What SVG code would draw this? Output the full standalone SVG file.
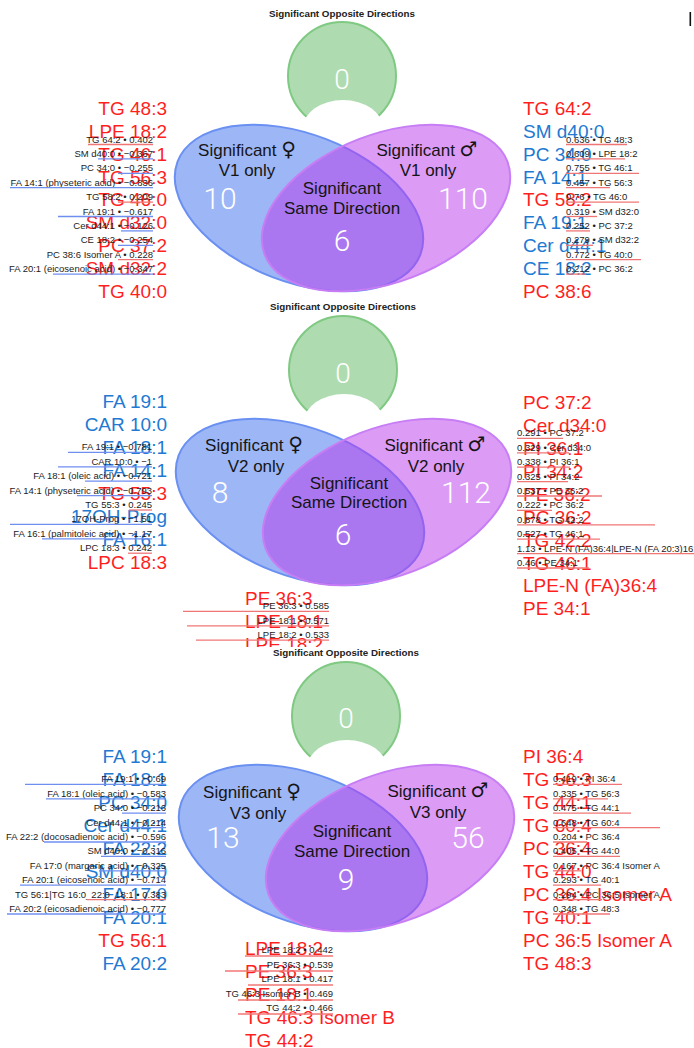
<svg xmlns="http://www.w3.org/2000/svg" width="694" height="1048" viewBox="0 0 694 1048">
<style>
text{font-family:"Liberation Sans","DejaVu Sans",Arial,sans-serif}
.ttl{font-size:9.8px;font-weight:bold;fill:#222;text-anchor:middle}
.vl{font-size:17px;fill:#151515;text-anchor:middle}
.sym{font-family:"DejaVu Sans",sans-serif;font-size:20px}
.num{font-family:Roboto,"Liberation Sans",sans-serif;font-weight:300;font-size:30px;fill:#fff;text-anchor:middle}
.br{font-size:19px;fill:#ff1f1f}
.bb{font-size:19px;fill:#2179d2}
.s{font-size:9.5px;fill:#1c1c1c}
.e{text-anchor:end}
.lr{stroke:#f07676;stroke-width:1.3}
.lb{stroke:#6f8ff0;stroke-width:1.3}
.green{fill:#aedcb0;stroke:#80c983;stroke-width:2}
.bite{fill:#fff}
.blue{fill:rgb(59,110,235);fill-opacity:.5;stroke:#6a90f2;stroke-width:2}
.purple{fill:rgb(185,55,235);fill-opacity:.5;stroke:#c77ef5;stroke-width:2}
</style>
<defs>
<clipPath id="c1"><rect x="0" y="0" width="694" height="300"/></clipPath>
<clipPath id="c2"><rect x="0" y="300" width="694" height="347"/></clipPath>
<clipPath id="c3"><rect x="0" y="647" width="694" height="401"/></clipPath>
<g id="venn">
<circle class="green" cx="342" cy="76" r="54"/>
<ellipse class="bite" cx="343" cy="128" rx="40" ry="28"/>
<ellipse class="blue" cx="299" cy="208" rx="130" ry="74" transform="rotate(21 299 208)"/>
<ellipse class="purple" cx="386" cy="208" rx="130" ry="74" transform="rotate(-21 386 208)"/>
</g>
</defs>
<rect width="694" height="1048" fill="#fff"/>
<rect x="689.5" y="12" width="1.6" height="14" fill="#111"/>

<!-- PANEL 1 -->
<g id="panel1" clip-path="url(#c1)">
<g id="p1-shapes"><use href="#venn"/></g>
<g id="p1-opposite"><text class="ttl" x="342" y="17">Significant Opposite Directions</text><text class="num" x="342" y="89" style="font-size:28px">0</text></g>
<g id="p1-female"><text class="vl" x="247" y="156">Significant <tspan class="sym">♀</tspan></text><text class="vl" x="247" y="176">V1 only</text><text class="num" x="220" y="209">10</text></g>
<g id="p1-male"><text class="vl" x="427" y="156">Significant <tspan class="sym">♂</tspan></text><text class="vl" x="428" y="176">V1 only</text><text class="num" x="463" y="209">110</text></g>
<g id="p1-same"><text class="vl" x="342" y="194">Significant</text><text class="vl" x="342" y="214">Same Direction</text><text class="num" x="342" y="251">6</text></g>
<g id="p1-left-labels">
<text class="br e" x="167" y="115">TG 48:3</text><text class="br e" x="167" y="138">LPE 18:2</text><text class="br e" x="167" y="161">TG 46:1</text><text class="br e" x="167" y="184">TG 56:3</text><text class="br e" x="167" y="206">TG 46:0</text><text class="br e" x="167" y="229">SM d32:0</text><text class="br e" x="167" y="252">PC 37:2</text><text class="br e" x="167" y="275">SM d32:2</text><text class="br e" x="167" y="298">TG 40:0</text>
</g>
<g id="p1-right-labels">
<text class="br" x="523" y="115">TG 64:2</text><text class="bb" x="523" y="138">SM d40:0</text><text class="bb" x="523" y="161">PC 34:0</text><text class="bb" x="523" y="184">FA 14:1</text><text class="br" x="523" y="206">TG 58:2</text><text class="bb" x="523" y="229">FA 19:1</text><text class="bb" x="523" y="252">Cer d44:1</text><text class="bb" x="523" y="275">CE 18:2</text><text class="br" x="523" y="298">PC 38:6</text>
</g>
<g id="p1-left-values">
<text class="s e" x="153" y="142.5">TG 64:2 • 0.402</text>
<text class="s e" x="153" y="156.9">SM d40:0 • −0.367</text>
<text class="s e" x="153" y="171.3">PC 34:0 • −0.255</text>
<text class="s e" x="153" y="185.7">FA 14:1 (physeteric acid) • −0.836</text>
<text class="s e" x="153" y="200.1">TG 58:2 • 0.209</text>
<text class="s e" x="153" y="214.5">FA 19:1 • −0.617</text>
<text class="s e" x="153" y="228.9">Cer d44:1 • −0.126</text>
<text class="s e" x="153" y="243.3">CE 18:2 • −0.254</text>
<text class="s e" x="153" y="257.7">PC 38:6 Isomer A • 0.228</text>
<text class="s e" x="153" y="272.1">FA 20:1 (eicosenoic acid) • −0.347</text>
</g>
<g id="p1-right-values">
<text class="s" x="566" y="142.5">0.636 • TG 48:3</text>
<text class="s" x="566" y="156.9">0.609 • LPE 18:2</text>
<text class="s" x="566" y="171.3">0.755 • TG 46:1</text>
<text class="s" x="566" y="185.7">0.457 • TG 56:3</text>
<text class="s" x="566" y="200.1">0.76 • TG 46:0</text>
<text class="s" x="566" y="214.5">0.319 • SM d32:0</text>
<text class="s" x="566" y="228.9">0.252 • PC 37:2</text>
<text class="s" x="566" y="243.3">0.279 • SM d32:2</text>
<text class="s" x="566" y="257.7">0.772 • TG 40:0</text>
<text class="s" x="566" y="272.1">0.212 • PC 36:2</text>
</g>
</g>

<!-- PANEL 2 -->
<g id="panel2" clip-path="url(#c2)">
<g id="p2-shapes"><use href="#venn" transform="translate(1,294)"/></g>
<g id="p2-opposite"><text class="ttl" x="343" y="310">Significant Opposite Directions</text><text class="num" x="343" y="383" style="font-size:28px">0</text></g>
<g id="p2-female"><text class="vl" x="254" y="451">Significant <tspan class="sym">♀</tspan></text><text class="vl" x="256" y="472">V2 only</text><text class="num" x="220" y="503">8</text></g>
<g id="p2-male"><text class="vl" x="435" y="451">Significant <tspan class="sym">♂</tspan></text><text class="vl" x="436" y="472">V2 only</text><text class="num" x="466" y="503">112</text></g>
<g id="p2-same"><text class="vl" x="349" y="489">Significant</text><text class="vl" x="349" y="508">Same Direction</text><text class="num" x="343" y="545">6</text></g>
<g id="p2-left-labels">
<text class="bb e" x="167" y="408">FA 19:1</text><text class="bb e" x="167" y="431">CAR 10:0</text><text class="bb e" x="167" y="454">FA 18:1</text><text class="bb e" x="167" y="477">FA 14:1</text><text class="br e" x="167" y="500">TG 55:3</text><text class="bb e" x="167" y="523">17OH-Prog</text><text class="bb e" x="167" y="546">FA 16:1</text><text class="br e" x="167" y="569">LPC 18:3</text>
</g>
<g id="p2-right-labels">
<text class="br" x="523" y="409">PC 37:2</text><text class="br" x="523" y="432">Cer d34:0</text><text class="br" x="523" y="455">PI 36:1</text><text class="br" x="523" y="478">PI 34:2</text><text class="br" x="523" y="501">PE 36:2</text><text class="br" x="523" y="524">PC 36:2</text><text class="br" x="523" y="547">TG 42:2</text><text class="br" x="523" y="570">TG 46:1</text><text class="br" x="523" y="592">LPE-N (FA)36:4</text><text class="br" x="523" y="615">PE 34:1</text>
</g>
<g id="p2-bottom-labels">
<text class="br" x="245" y="605">PE 36:3</text><text class="br" x="245" y="628">LPE 18:1</text><text class="br" x="245" y="651">LPE 18:2</text>
</g>
<g id="p2-left-values">
<text class="s e" x="152" y="450.4">FA 19:1 • −0.781</text>
<text class="s e" x="152" y="464.8">CAR 10:0 • −1</text>
<text class="s e" x="152" y="479.2">FA 18:1 (oleic acid) • −0.721</text>
<text class="s e" x="152" y="493.6">FA 14:1 (physeteric acid) • −0.793</text>
<text class="s e" x="152" y="508">TG 55:3 • 0.245</text>
<text class="s e" x="152" y="522.4">17OH-Prog • −1.51</text>
<text class="s e" x="152" y="536.8">FA 16:1 (palmitoleic acid) • −1.17</text>
<text class="s e" x="152" y="551.2">LPC 18:3 • 0.242</text>
</g>
<g id="p2-right-values">
<text class="s" x="517" y="436.4">0.291 • PC 37:2</text>
<text class="s" x="517" y="450.8">0.329 • Cer d34:0</text>
<text class="s" x="517" y="465.2">0.338 • PI 36:1</text>
<text class="s" x="517" y="479.6">0.325 • PI 34:2</text>
<text class="s" x="517" y="494">0.537 • PE 36:2</text>
<text class="s" x="517" y="508.4">0.222 • PC 36:2</text>
<text class="s" x="517" y="522.8">0.878 • TG 42:2</text>
<text class="s" x="517" y="537.2">0.527 • TG 46:1</text>
<text class="s" x="517" y="551.6">1.13 • LPE-N (FA)36:4|LPE-N (FA 20:3)16:1</text>
<text class="s" x="517" y="566">0.46 • PE 34:1</text>
</g>
<g id="p2-bottom-values">
<text class="s e" x="329" y="609.4">PE 36:3 • 0.585</text>
<text class="s e" x="329" y="623.8">LPE 18:1 • 0.571</text>
<text class="s e" x="329" y="638.2">LPE 18:2 • 0.533</text>
</g>
</g>

<!-- PANEL 3 -->
<g id="panel3" clip-path="url(#c3)">
<g id="p3-shapes"><use href="#venn" transform="translate(4,640)"/></g>
<g id="p3-opposite"><text class="ttl" x="346" y="656">Significant Opposite Directions</text><text class="num" x="346" y="728" style="font-size:28px">0</text></g>
<g id="p3-female"><text class="vl" x="252" y="798">Significant <tspan class="sym">♀</tspan></text><text class="vl" x="258" y="819">V3 only</text><text class="num" x="223" y="848">13</text></g>
<g id="p3-male"><text class="vl" x="438" y="797">Significant <tspan class="sym">♂</tspan></text><text class="vl" x="438" y="818">V3 only</text><text class="num" x="468" y="848">56</text></g>
<g id="p3-same"><text class="vl" x="352" y="837">Significant</text><text class="vl" x="352" y="857">Same Direction</text><text class="num" x="346" y="890">9</text></g>
<g id="p3-left-labels">
<text class="bb e" x="167" y="763">FA 19:1</text><text class="bb e" x="167" y="786">FA 18:1</text><text class="bb e" x="167" y="809">PC 34:0</text><text class="bb e" x="167" y="832">Cer d44:1</text><text class="bb e" x="167" y="855">FA 22:2</text><text class="bb e" x="167" y="878">SM d40:0</text><text class="bb e" x="167" y="901">FA 17:0</text><text class="bb e" x="167" y="924">FA 20:1</text><text class="br e" x="167" y="947">TG 56:1</text><text class="bb e" x="167" y="970">FA 20:2</text>
</g>
<g id="p3-right-labels">
<text class="br" x="523" y="763">PI 36:4</text><text class="br" x="523" y="786">TG 56:3</text><text class="br" x="523" y="809">TG 44:1</text><text class="br" x="523" y="832">TG 60:4</text><text class="br" x="523" y="855">PC 36:4</text><text class="br" x="523" y="878">TG 44:0</text><text class="br" x="523" y="901">PC 36:4 Isomer A</text><text class="br" x="523" y="924">TG 40:1</text><text class="br" x="523" y="947">PC 36:5 Isomer A</text><text class="br" x="523" y="970">TG 48:3</text>
</g>
<g id="p3-bottom-labels">
<text class="br" x="245" y="955">LPE 18:2</text><text class="br" x="245" y="978">PE 36:3</text><text class="br" x="245" y="1001">PE 18:1</text><text class="br" x="245" y="1024">TG 46:3 Isomer B</text><text class="br" x="245" y="1047">TG 44:2</text>
</g>
<g id="p3-left-values">
<text class="s e" x="166" y="782.4">FA 19:1 • −0.69</text>
<text class="s e" x="166" y="796.8">FA 18:1 (oleic acid) • −0.583</text>
<text class="s e" x="166" y="811.2">PC 34:0 • −0.216</text>
<text class="s e" x="166" y="825.6">Cer d44:1 • −0.214</text>
<text class="s e" x="166" y="840">FA 22:2 (docosadienoic acid) • −0.596</text>
<text class="s e" x="166" y="854.4">SM d40:0 • −0.316</text>
<text class="s e" x="166" y="868.8">FA 17:0 (margaric acid) • −0.325</text>
<text class="s e" x="166" y="883.2">FA 20:1 (eicosenoic acid) • −0.714</text>
<text class="s e" x="166" y="897.6">TG 56:1|TG 16:0_22:0_18:1 • 0.383</text>
<text class="s e" x="166" y="912">FA 20:2 (eicosadienoic acid) • −0.777</text>
</g>
<g id="p3-right-values">
<text class="s" x="553" y="782.4">0.419 • PI 36:4</text>
<text class="s" x="553" y="796.8">0.335 • TG 56:3</text>
<text class="s" x="553" y="811.2">0.475 • TG 44:1</text>
<text class="s" x="553" y="825.6">0.648 • TG 60:4</text>
<text class="s" x="553" y="840">0.204 • PC 36:4</text>
<text class="s" x="553" y="854.4">0.405 • TG 44:0</text>
<text class="s" x="553" y="868.8">0.167 • PC 36:4 Isomer A</text>
<text class="s" x="553" y="883.2">0.293 • TG 40:1</text>
<text class="s" x="553" y="897.6">0.294 • PC 36:5 Isomer A</text>
<text class="s" x="553" y="912">0.348 • TG 48:3</text>
</g>
<g id="p3-bottom-values">
<text class="s e" x="333" y="953">LPE 18:2 • 0.442</text>
<text class="s e" x="333" y="968">PE 36:3 • 0.539</text>
<text class="s e" x="333" y="982">LPE 18:1 • 0.417</text>
<text class="s e" x="333" y="997">TG 46:3 Isomer B • 0.469</text>
<text class="s e" x="333" y="1011">TG 44:2 • 0.466</text>
</g>
</g>

<!-- value bars -->
<g id="connectors">
<g clip-path="url(#c1)">
<line class="lr" x1="88" y1="144.5" x2="153" y2="144.5"/>
<line class="lb" x1="98" y1="158.9" x2="153" y2="158.9"/>
<line class="lb" x1="118" y1="173.3" x2="153" y2="173.3"/>
<line class="lb" x1="10" y1="187.7" x2="153" y2="187.7"/>
<line class="lr" x1="118" y1="202.1" x2="153" y2="202.1"/>
<line class="lb" x1="58" y1="216.5" x2="153" y2="216.5"/>
<line class="lb" x1="121" y1="230.9" x2="153" y2="230.9"/>
<line class="lb" x1="118" y1="245.3" x2="153" y2="245.3"/>
<line class="lr" x1="118" y1="259.7" x2="153" y2="259.7"/>
<line class="lb" x1="53" y1="274.1" x2="153" y2="274.1"/>
<line class="lr" x1="566" y1="144.5" x2="627" y2="144.5"/>
<line class="lr" x1="566" y1="158.9" x2="625" y2="158.9"/>
<line class="lr" x1="566" y1="173.3" x2="639" y2="173.3"/>
<line class="lr" x1="566" y1="187.7" x2="610" y2="187.7"/>
<line class="lr" x1="566" y1="202.1" x2="639" y2="202.1"/>
<line class="lr" x1="566" y1="216.5" x2="597" y2="216.5"/>
<line class="lr" x1="566" y1="230.9" x2="590" y2="230.9"/>
<line class="lr" x1="566" y1="245.3" x2="593" y2="245.3"/>
<line class="lr" x1="566" y1="259.7" x2="641" y2="259.7"/>
<line class="lr" x1="566" y1="274.1" x2="586" y2="274.1"/>
</g>
<g clip-path="url(#c2)">
<line class="lb" x1="68" y1="452.4" x2="152" y2="452.4"/>
<line class="lb" x1="58" y1="466.8" x2="152" y2="466.8"/>
<line class="lb" x1="85" y1="481.2" x2="152" y2="481.2"/>
<line class="lb" x1="77" y1="495.6" x2="152" y2="495.6"/>
<line class="lr" x1="129" y1="510" x2="152" y2="510"/>
<line class="lb" x1="10" y1="524.4" x2="152" y2="524.4"/>
<line class="lb" x1="42" y1="538.8" x2="152" y2="538.8"/>
<line class="lr" x1="128" y1="553.2" x2="152" y2="553.2"/>
<line class="lr" x1="517" y1="438.4" x2="563" y2="438.4"/>
<line class="lr" x1="517" y1="452.8" x2="569" y2="452.8"/>
<line class="lr" x1="517" y1="467.2" x2="570" y2="467.2"/>
<line class="lr" x1="517" y1="481.6" x2="568" y2="481.6"/>
<line class="lr" x1="517" y1="496" x2="602" y2="496"/>
<line class="lr" x1="517" y1="510.4" x2="552" y2="510.4"/>
<line class="lr" x1="517" y1="524.8" x2="655" y2="524.8"/>
<line class="lr" x1="517" y1="539.2" x2="600" y2="539.2"/>
<line class="lr" x1="517" y1="553.6" x2="694" y2="553.6"/>
<line class="lr" x1="517" y1="568" x2="589" y2="568"/>
<line class="lr" x1="183" y1="611.4" x2="329" y2="611.4"/>
<line class="lr" x1="187" y1="625.8" x2="329" y2="625.8"/>
<line class="lr" x1="196" y1="640.2" x2="329" y2="640.2"/>
</g>
<g clip-path="url(#c3)">
<line class="lb" x1="25" y1="784.4" x2="166" y2="784.4"/>
<line class="lb" x1="46" y1="798.8" x2="166" y2="798.8"/>
<line class="lb" x1="122" y1="813.2" x2="166" y2="813.2"/>
<line class="lb" x1="122" y1="827.6" x2="166" y2="827.6"/>
<line class="lb" x1="44" y1="842" x2="166" y2="842"/>
<line class="lb" x1="101" y1="856.4" x2="166" y2="856.4"/>
<line class="lb" x1="99" y1="870.8" x2="166" y2="870.8"/>
<line class="lb" x1="20" y1="885.2" x2="166" y2="885.2"/>
<line class="lr" x1="87" y1="899.6" x2="166" y2="899.6"/>
<line class="lb" x1="7" y1="914" x2="166" y2="914"/>
<line class="lr" x1="553" y1="784.4" x2="622" y2="784.4"/>
<line class="lr" x1="553" y1="798.8" x2="608" y2="798.8"/>
<line class="lr" x1="553" y1="813.2" x2="631" y2="813.2"/>
<line class="lr" x1="553" y1="827.6" x2="660" y2="827.6"/>
<line class="lr" x1="553" y1="842" x2="587" y2="842"/>
<line class="lr" x1="553" y1="856.4" x2="620" y2="856.4"/>
<line class="lr" x1="553" y1="870.8" x2="581" y2="870.8"/>
<line class="lr" x1="553" y1="885.2" x2="601" y2="885.2"/>
<line class="lr" x1="553" y1="899.6" x2="602" y2="899.6"/>
<line class="lr" x1="553" y1="914" x2="610" y2="914"/>
<line class="lr" x1="245" y1="956" x2="333" y2="956"/>
<line class="lr" x1="225" y1="971" x2="333" y2="971"/>
<line class="lr" x1="248" y1="985" x2="333" y2="985"/>
<line class="lr" x1="238" y1="1000" x2="333" y2="1000"/>
<line class="lr" x1="238" y1="1014" x2="333" y2="1014"/>
</g>
</g>
</svg>
